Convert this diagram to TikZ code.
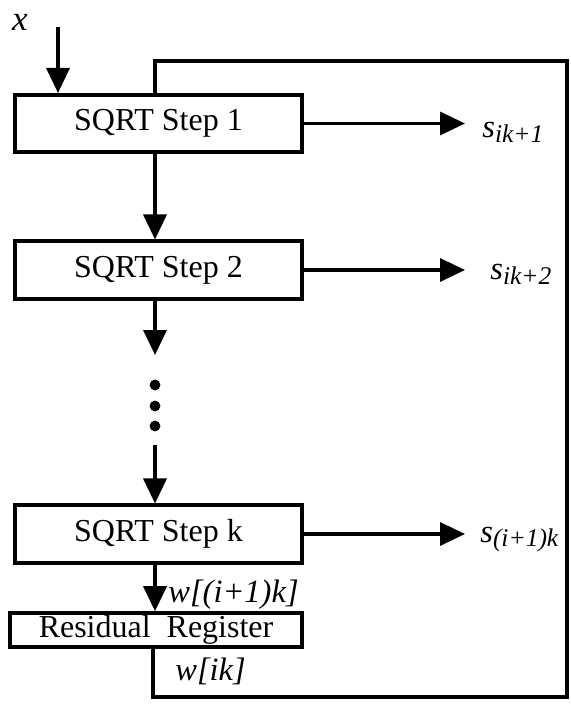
\documentclass[tikz,border=0pt]{standalone}
\usepackage{fontspec}
\setmainfont{Liberation Serif}
\usetikzlibrary{positioning,arrows.meta}

% lowered index for the output digits
\newcommand{\subidx}[1]{\raisebox{-0.3ex}{\fontsize{14.5}{16}\selectfont #1}}

\begin{document}
\begin{tikzpicture}[
  stepbox/.style={draw=black, line width=2pt, minimum width=5.74cm, minimum height=1.15cm, inner sep=0pt, font=\fontsize{18.2}{20}\selectfont},
  flow/.style={black, line width=2pt, -{Triangle[length=0.5cm,width=0.46cm]}},
  wire/.style={black, line width=2pt},
  outlbl/.style={anchor=base west, inner sep=0pt, font=\fontsize{18.5}{20}\selectfont\itshape}]

\useasboundingbox (0,0) rectangle (11.42,14.1);

% square root stages
\node[stepbox] (st1) at (3.17,11.63) {SQRT Step 1};
\node[stepbox] (st2) at (3.17,8.70) {SQRT Step 2};
\node[stepbox] (stk) at (3.17,3.42) {SQRT Step k};
\node[stepbox, minimum width=5.84cm, minimum height=0.68cm] (reg) at (3.12,1.50) {Residual\ \ Register};

% input
\node[font=\fontsize{20}{22}\selectfont\itshape, inner sep=0pt] (x) at (0.4,13.66) {x};
\coordinate (xin) at (1.16,13.56);
\draw[flow] (xin) -- (xin |- st1.north);

% result digits
\coordinate (tips) at (9.3,0);
\node[outlbl] (s1) at (9.64,11.34) {s\subidx{ik+1}};
\node[outlbl] (s2) at (9.80,8.50) {s\subidx{ik+2}};
\node[outlbl] (sk) at (9.60,3.26) {s\subidx{(i+1)k}};
\draw[flow] (st1.east) -- (st1.east -| tips);
\draw[flow] (st2.east) -- (st2.east -| tips);
\draw[flow] (stk.east) -- (stk.east -| tips);

% chain of stages
\coordinate (ax) at (3.1,0);
\coordinate (gapa) at (3.1,7.0);
\coordinate (gapb) at (3.1,5.2);
\draw[flow] (st1.south -| ax) -- (st2.north -| ax);
\draw[flow] (st2.south -| ax) -- (gapa);
\filldraw[black] (3.1,6.40) circle (0.1);
\filldraw[black] (3.1,5.98) circle (0.1);
\filldraw[black] (3.1,5.58) circle (0.1);
\draw[flow] (gapb) -- (stk.north -| ax);
\draw[flow] (stk.south -| ax) -- (reg.north -| ax);
\node[outlbl] (wn) at (3.36,2.06) {w[(i+1)k]};

% residual fed back to the first stage
\coordinate (fbb) at (3.06,0.16);
\coordinate (fbr) at (11.34,12.88);
\draw[wire] (reg.south -| fbb) -- (fbb) -| (fbr) -| (st1.north -| ax);
\node[outlbl] (wo) at (3.5,0.5) {w[ik]};
\end{tikzpicture}
\end{document}
